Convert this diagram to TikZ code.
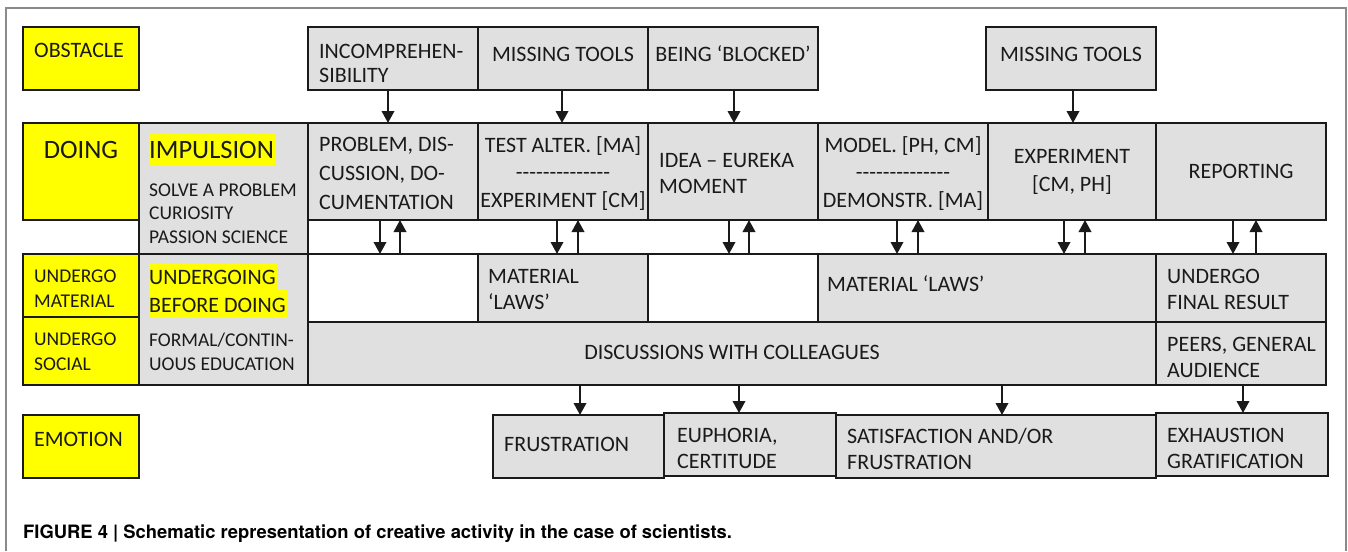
\documentclass[tikz,border=0pt]{standalone}
\usepackage{fontspec}
\setmainfont{Carlito}
\newfontfamily\capfont{TeX Gyre Heros}
\usetikzlibrary{arrows.meta}
\definecolor{gbox}{HTML}{E0E0E0}
\definecolor{ylw}{HTML}{FFFF00}
\definecolor{framegray}{HTML}{8A8A8A}
\definecolor{ink}{HTML}{1A1A1A}
\newcommand\fs[2]{\fontsize{#1}{#2}\selectfont}
\newcommand\hlA[1]{{\setlength\fboxsep{0pt}\colorbox{ylw}{\rule[-7.5pt]{0pt}{32pt}#1\hspace{1pt}}}}
\newcommand\hlB[1]{{\setlength\fboxsep{0pt}\colorbox{ylw}{\rule[-6pt]{0pt}{26pt}#1\hspace{1pt}}}}
\newcommand\hlC[1]{{\setlength\fboxsep{0pt}\colorbox{ylw}{\rule[-6pt]{0pt}{28pt}#1\hspace{1pt}}}}
\newcommand\dashrow{-{}-{}-{}-{}-{}-{}-{}-{}-{}-{}-{}-{}-{}-}
\newcommand\mkbox[6]{%
  \pgfmathsetmacro\bw{#5-#3}\pgfmathsetmacro\bh{#6-#4}%
  \node[#1, minimum width=\bw pt, minimum height=\bh pt] (#2) at (#3,#4) {};}
\tikzset{
  bx/.style={draw=ink, line width=1.9pt, fill=gbox, inner sep=0pt, outer sep=0pt, anchor=north west},
  ybx/.style={bx, fill=ylw},
  wbx/.style={bx, fill=white},
  lbl/.style={anchor=base west, align=left, inner sep=0pt, text=ink, font=\fs{22}{26}},
  clbl/.style={anchor=base, align=center, inner sep=0pt, text=ink, font=\fs{22}{26}},
  arr/.style={line width=2pt, draw=ink, -{Triangle[length=12pt,width=12.5pt]}},
}
\begin{document}
\begin{tikzpicture}[x=1pt, y=-1pt]
\useasboundingbox (0,0) rectangle (1348,551);
\draw[framegray, line width=2pt] (6,551) -- (6,8) -- (1346,8) -- (1346,551);
% boxes
\mkbox{ybx}{obst}{23}{27}{139}{90}
\mkbox{bx}{incomp}{308}{27}{478}{90}
\mkbox{bx}{miss1}{478}{27}{648}{90}
\mkbox{bx}{blocked}{648}{27}{818}{90}
\mkbox{bx}{miss2}{986}{27}{1156}{90}
\mkbox{ybx}{doing}{23}{123}{139}{220}
\mkbox{bx}{impulse}{139}{123}{308}{254}
\mkbox{bx}{problem}{308}{123}{478}{220}
\mkbox{bx}{test}{478}{123}{648}{220}
\mkbox{bx}{idea}{648}{123}{818}{220}
\mkbox{bx}{model}{818}{123}{988}{220}
\mkbox{bx}{exper}{988}{123}{1156}{220}
\mkbox{bx}{report}{1156}{123}{1326}{220}
\mkbox{ybx}{umat}{23}{254}{139}{317}
\mkbox{ybx}{usoc}{23}{317}{139}{385}
\mkbox{bx}{undergoing}{139}{254}{308}{385}
\mkbox{wbx}{w1}{308}{254}{478}{322}
\mkbox{bx}{laws1}{478}{254}{648}{322}
\mkbox{wbx}{w2}{648}{254}{818}{322}
\mkbox{bx}{laws2}{818}{254}{1156}{322}
\mkbox{bx}{final}{1156}{254}{1326}{322}
\mkbox{bx}{disc}{308}{322}{1156}{385}
\mkbox{bx}{peers}{1156}{322}{1326}{385}
\mkbox{ybx}{emot}{23}{415}{139}{478}
\mkbox{bx}{frust}{493}{415}{664}{478}
\mkbox{bx}{satis}{836}{415}{1156}{478}
\mkbox{bx}{euph}{664}{413}{836}{476}
\mkbox{bx}{exh}{1156}{413}{1328}{476}
% texts (base anchor = baseline of the last line)
\node[lbl] (t-obst) at (34,58) {OBSTACLE};
\node[lbl, font=\fs{22}{24.5}] (t-incomp) at (319,82.5) {INCOMPREHEN-\\SIBILITY};
\node[clbl] (t-miss1) at (563,62) {MISSING TOOLS};
\node[clbl] (t-blocked) at (733,62) {BEING ‘BLOCKED’};
\node[clbl] (t-miss2) at (1071,62) {MISSING TOOLS};
\node[clbl, font=\fs{26.5}{30}] (t-doing) at (81,158.5) {DOING};
\node[lbl, font=\fs{26.5}{30}] (t-impulse) at (149,158.5) {\hlA{IMPULSION}};
\node[lbl, font=\fs{19.5}{23.5}] (t-impulse2) at (149,243) {SOLVE A PROBLEM\\CURIOSITY\\PASSION SCIENCE};
\node[lbl, font=\fs{22}{29}] (t-problem) at (319,209) {PROBLEM, DIS-\\CUSSION, DO-\\CUMENTATION};
\node[clbl, font=\fs{22}{27.5}] (t-test) at (563,207) {TEST ALTER. [MA]\\\dashrow\\EXPERIMENT [CM]};
\node[lbl] (t-idea) at (659,193) {IDEA – EUREKA\\MOMENT};
\node[clbl, font=\fs{22}{27.5}] (t-model) at (903,207) {MODEL. [PH, CM]\\\dashrow\\DEMONSTR. [MA]};
\node[clbl, font=\fs{22}{28}] (t-exper) at (1072,191) {EXPERIMENT\\{}[CM, PH]};
\node[clbl] (t-report) at (1241,178) {REPORTING};
\node[lbl, font=\fs{19.5}{25}] (t-umat) at (34,307) {UNDERGO\\MATERIAL};
\node[lbl, font=\fs{19.5}{25}] (t-usoc) at (34,370) {UNDERGO\\SOCIAL};
\node[lbl, font=\fs{22}{28}] (t-undergoing) at (149,312) {\hlB{UNDERGOING}\\\hlC{BEFORE DOING}};
\node[lbl, font=\fs{19.5}{24}] (t-formal) at (149,370) {FORMAL/CONTIN-\\UOUS EDUCATION};
\node[lbl] (t-emot) at (34,446) {EMOTION};
\node[lbl] (t-laws1) at (488,309) {MATERIAL\\‘LAWS’};
\node[lbl] (t-laws2) at (827,291) {MATERIAL ‘LAWS’};
\node[lbl] (t-final) at (1167,309) {UNDERGO\\FINAL RESULT};
\node[clbl] (t-disc) at (732,359) {DISCUSSIONS WITH COLLEAGUES};
\node[lbl] (t-peers) at (1167,377) {PEERS, GENERAL\\AUDIENCE};
\node[lbl] (t-frust) at (504,451) {FRUSTRATION};
\node[lbl] (t-euph) at (677,468) {EUPHORIA,\\CERTITUDE};
\node[lbl] (t-satis) at (847,469) {SATISFACTION AND/OR\\FRUSTRATION};
\node[lbl] (t-exh) at (1167,468) {EXHAUSTION\\GRATIFICATION};
\node[anchor=base west, inner sep=0pt, text=black, font=\capfont\bfseries\fs{18.4}{21}] (cap) at (23,538) {FIGURE 4 | Schematic representation of creative activity in the case of scientists.};
% obstacle arrows
\draw[arr] ([xshift=-5pt]incomp.south) -- ([xshift=-5pt]problem.north);
\draw[arr] ([xshift=-1pt]miss1.south) -- ([xshift=-1pt]test.north);
\draw[arr] ([xshift=1pt]blocked.south) -- ([xshift=1pt]idea.north);
\draw[arr] ([xshift=2pt]miss2.south) -- ([xshift=1pt]exper.north);
% doing <-> undergo
\draw[arr] ([xshift=-13pt]problem.south) -- ([xshift=-13pt]w1.north);
\draw[arr] ([xshift=7pt]w1.north) -- ([xshift=7pt]problem.south);
\draw[arr] ([xshift=-6pt]test.south) -- ([xshift=-6pt]laws1.north);
\draw[arr] ([xshift=15pt]laws1.north) -- ([xshift=15pt]test.south);
\draw[arr] ([xshift=-4pt]idea.south) -- ([xshift=-4pt]w2.north);
\draw[arr] ([xshift=16pt]w2.north) -- ([xshift=16pt]idea.south);
\draw[arr] ([xshift=-6pt]model.south) -- ([xshift=-6pt]model.south |- laws2.north);
\draw[arr] ([xshift=15pt]model.south |- laws2.north) -- ([xshift=15pt]model.south);
\draw[arr] ([xshift=-8pt]exper.south) -- ([xshift=-8pt]exper.south |- laws2.north);
\draw[arr] ([xshift=13pt]exper.south |- laws2.north) -- ([xshift=13pt]exper.south);
\draw[arr] ([xshift=-8pt]report.south) -- ([xshift=-8pt]final.north);
\draw[arr] ([xshift=15pt]final.north) -- ([xshift=15pt]report.south);
% undergo -> emotion
\draw[arr] ([xshift=1.5pt]frust.north |- disc.south) -- ([xshift=1.5pt]frust.north);
\draw[arr] ([xshift=-11pt]euph.north |- disc.south) -- ([xshift=-11pt]euph.north);
\draw[arr] ([xshift=6pt]satis.north |- disc.south) -- ([xshift=6pt]satis.north);
\draw[arr] ([xshift=1pt]exh.north |- peers.south) -- ([xshift=1pt]exh.north);
\end{tikzpicture}
\end{document}
